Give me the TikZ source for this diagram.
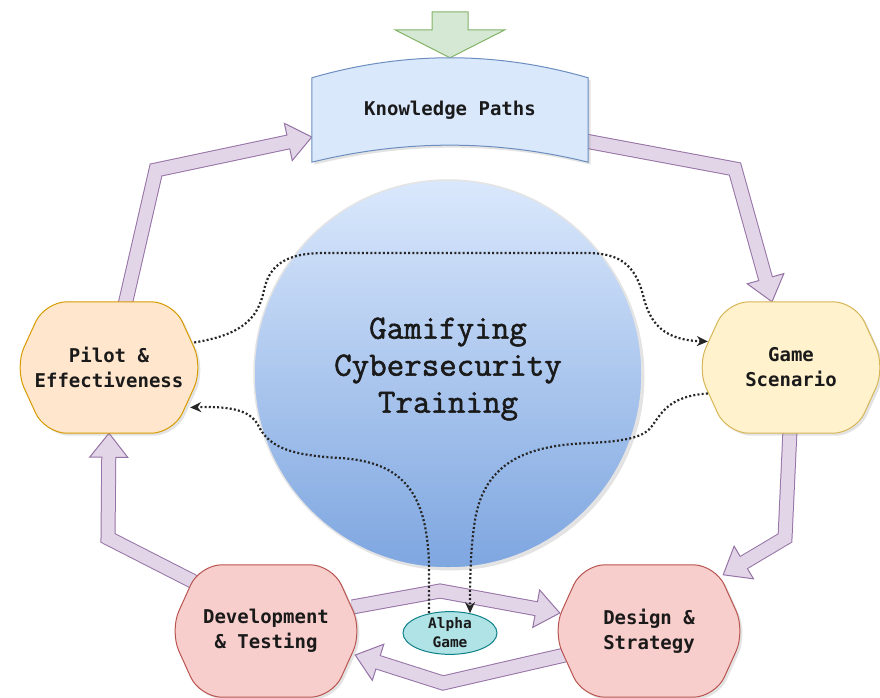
\documentclass[tikz,border=0pt]{standalone}
\usepackage{fontspec}
\newfontfamily\boxfont{DejaVu Sans Mono}
\newfontfamily\courfont[FakeBold=1.6]{Latin Modern Mono}
\usetikzlibrary{calc,shadows,shapes.geometric,arrows.meta}
\pgfdeclarelayer{arrowlayer}
\pgfdeclarelayer{shapelayer}
\pgfsetlayers{arrowlayer,shapelayer,main}
\definecolor{kpfill}{HTML}{DAE8FC}
\definecolor{kpdraw}{HTML}{6C8EBF}
\definecolor{pofill}{HTML}{FFE6CC}
\definecolor{podraw}{HTML}{D79B00}
\definecolor{gsfill}{HTML}{FFF2CC}
\definecolor{gsdraw}{HTML}{D6B656}
\definecolor{rdfill}{HTML}{F8CECC}
\definecolor{rddraw}{HTML}{B85450}
\definecolor{afill}{HTML}{B0E3E6}
\definecolor{adraw}{HTML}{0E8088}
\definecolor{pfill}{HTML}{E1D5E7}
\definecolor{pdraw}{HTML}{9673A6}
\definecolor{gfill}{HTML}{D5E8D4}
\definecolor{gdraw}{HTML}{82B366}
\definecolor{cTop}{HTML}{DAE8FC}
\definecolor{cBot}{HTML}{7EA6E0}
\definecolor{cEdge}{HTML}{E4E4E4}
\definecolor{txt}{HTML}{1A1A1A}
\tikzset{
  shadowed/.style={drop shadow={opacity=0.22, shadow xshift=2.5pt, shadow yshift=-2.5pt}},
  boxtext/.style={font=\boxfont\bfseries\fontsize{19}{25}\selectfont, align=center, text=txt, inner sep=0pt},
  dotline/.style={draw=black!85, line width=2.2pt, dash pattern=on 2pt off 2.2pt},
  dottip/.style={-{Stealth[length=11pt,width=10pt]}},
}
\newcommand{\hexshape}[3]{%
  \path[fill=#2, draw=#3, line width=1pt, rounded corners=22pt, shadowed]
    (#1.north) -- ($(#1.north east)+(-30,0)$) -- (#1.east) -- ($(#1.south east)+(-30,0)$)
    -- ($(#1.south west)+(30,0)$) -- (#1.west) -- ($(#1.north west)+(30,0)$) -- cycle;}
\newcommand{\fatarrow}[3]{%
  \coordinate (fa-d) at ($(#3)!24pt!(#2)$);
  \coordinate (fa-l) at ($(fa-d)!19pt!90:(#3)$);
  \coordinate (fa-r) at ($(fa-d)!19pt!-90:(#3)$);
  \draw[draw=pdraw, line width=15pt, line join=miter] (#1) -- (#2) -- ($(#3)!23pt!(#2)$);
  \draw[fill=pfill, draw=pdraw, line width=1pt, line join=miter] (#3) -- (fa-l) -- (fa-r) -- cycle;
  \draw[draw=pfill, line width=13pt, line join=miter] (#1) -- (#2) -- ($(#3)!21pt!(#2)$);}
\begin{document}
\begin{tikzpicture}[x=1pt,y=-1pt]
\useasboundingbox (0,0) rectangle (880,698);
% text nodes
\node[boxtext, minimum width=276pt, minimum height=104pt] (kp) at (450,110) {Knowledge Paths};
\node[boxtext, minimum width=188pt, minimum height=131pt] (pilot) at (109,367.5) {Pilot \&\\Effectiveness};
\node[boxtext, minimum width=188pt, minimum height=131pt] (game) at (791,367.5) {Game\\Scenario};
\node[boxtext, minimum width=192pt, minimum height=132pt] (dev) at (266,631) {Development\\\& Testing};
\node[boxtext, minimum width=192pt, minimum height=132pt] (design) at (649,631) {Design \&\\Strategy};
% shapes
\begin{pgfonlayer}{shapelayer}
\node[circle, minimum size=388pt, inner sep=0pt, top color=cTop, bottom color=cBot, draw=cEdge, line width=1.5pt, shadowed] (circ) at (448,374) {};
\path[fill=gfill, draw=gdraw, line width=1pt]
  ($(kp.north)+(-18,-46)$) -- ($(kp.north)+(18,-46)$) -- ($(kp.north)+(18,-28)$)
  -- ($(kp.north)+(55,-28)$) -- (kp.north) -- ($(kp.north)+(-55,-28)$)
  -- ($(kp.north)+(-18,-28)$) -- cycle;
\path[fill=kpfill, draw=kpdraw, line width=1pt, shadowed]
  ($(kp.north west)+(0,20)$) .. controls ($(kp.north)+(-46,-6.7)$) and ($(kp.north)+(46,-6.7)$) .. ($(kp.north east)+(0,20)$)
  -- (kp.south east) .. controls ($(kp.south)+(46,-22.7)$) and ($(kp.south)+(-46,-22.7)$) .. (kp.south west) -- cycle;
\hexshape{pilot}{pofill}{podraw}
\hexshape{game}{gsfill}{gsdraw}
\hexshape{dev}{rdfill}{rddraw}
\hexshape{design}{rdfill}{rddraw}
\end{pgfonlayer}
\node[font=\courfont\fontsize{34}{37}\selectfont, align=center, text=txt] (title) at (448,369) {Gamifying\\Cybersecurity\\Training};
\node[ellipse, minimum width=94pt, minimum height=40pt, inner sep=0pt, fill=afill, draw=adraw, line width=1pt,
  font=\boxfont\bfseries\fontsize{14.5}{19}\selectfont, align=center, text=txt] (alpha) at (450,633) {Alpha\\Game};
% purple arrows
\begin{pgfonlayer}{arrowlayer}
\coordinate (s1) at ($(pilot.north)+(16,3)$);
\coordinate (b1) at (156,170);
\coordinate (t1) at ($(kp.west)+(0,27)$);
\fatarrow{s1}{b1}{t1}
\coordinate (s2) at ($(kp.east)+(-3,31)$);
\coordinate (b2) at (735,169);
\coordinate (t2) at ($(game.north)+(-19,0)$);
\fatarrow{s2}{b2}{t2}
\coordinate (s3) at ($(game.south)+(-1,-3)$);
\coordinate (b3) at (785,538);
\coordinate (t3) at ($(design.north east)+(-22,10)$);
\fatarrow{s3}{b3}{t3}
\coordinate (s4) at ($(dev.north west)+(24,17)$);
\coordinate (b4) at (108,538);
\coordinate (t4) at (pilot.south);
\fatarrow{s4}{b4}{t4}
\coordinate (s5) at ($(dev.east)+(-10,-24)$);
\coordinate (b5) at (440,591);
\coordinate (t5) at ($(design.west)+(7,-18)$);
\fatarrow{s5}{b5}{t5}
\coordinate (s6) at ($(design.west)+(12,24)$);
\coordinate (b6) at (443,683);
\coordinate (t6) at ($(dev.east)+(-7,24)$);
\fatarrow{s6}{b6}{t6}
\end{pgfonlayer}
% dotted connectors
\draw[dotline, dottip] ($(pilot.east)+(-9,-25)$) .. controls (240,335) and (258,320) .. (264,290)
  .. controls (270,262) and (290,254) .. (320,253) -- (590,253)
  .. controls (620,254) and (635,265) .. (643,295)
  .. controls (650,325) and (665,340) .. ($(game.west)+(11,-26)$);
\draw[dotline, dottip] ($(game.west)+(11,26)$) .. controls (670,396) and (662,412) .. (652,426)
  .. controls (645,436) and (630,441) .. (590,443)
  .. controls (530,445) and (485,460) .. (475,520)
  .. controls (471,545) and (470,570) .. ($(alpha.north)+(20,2)$);
\draw[dotline, dottip] ($(alpha.north)+(-21,2)$) -- (429,565)
  .. controls (427,495) and (405,462) .. (340,458)
  .. controls (285,455) and (268,445) .. (258,425)
  .. controls (250,410) and (230,406) .. ($(pilot.east)+(-13,40)$);
\end{tikzpicture}
\end{document}
